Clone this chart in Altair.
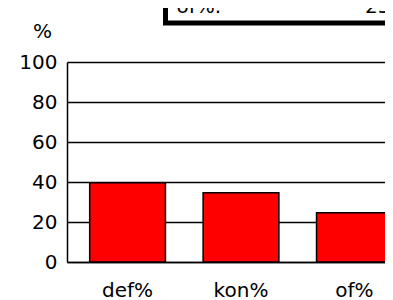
import altair as alt
import pandas as pd

categories = ["def%", "kon%", "of%"]
values = [39.6, 34.6, 24.6]
y_ticks = [0, 20, 40, 60, 80, 100]

df = pd.DataFrame({"cat": categories, "val": values})
last = df.tail(1)

FONT = "DejaVu Sans"

bars = alt.Chart(df).mark_bar(color="#ff0000", stroke="black", strokeWidth=1.5).encode(
    x=alt.X(
        "cat:N",
        sort=categories,
        scale=alt.Scale(range=[0, 348], paddingInner=0.332, paddingOuter=0.2),
        axis=alt.Axis(
            title=None, labelAngle=0, ticks=False, domainColor="black", domainWidth=1.5,
            labelPadding=18, labelFontSize=20, labelFont=FONT, labelColor="black",
        ),
    ),
    y=alt.Y(
        "val:Q",
        scale=alt.Scale(domain=[0, 100]),
        axis=alt.Axis(
            values=y_ticks, title="%", titleAngle=0, titleX=-25, titleY=-31,
            titleAlign="center", titleBaseline="middle", titleFontWeight="normal",
            titleFontSize=20, titleFont=FONT, titleColor="black",
            grid=True, gridColor="black", gridWidth=1.5, gridOpacity=1,
            ticks=False, domainColor="black", domainWidth=1.5,
            labelPadding=10, labelFontSize=20, labelFont=FONT, labelColor="black",
        ),
    ),
)

box = alt.Chart(last).mark_rect(fill="white", stroke="black", strokeWidth=5).encode(
    x=alt.value(98.5), x2=alt.value(420), y=alt.value(-120), y2=alt.value(-39)
)
box_label = alt.Chart(last).transform_calculate(
    lbl="datum.cat + '.'"
).mark_text(
    font=FONT, fontSize=20, align="left", baseline="alphabetic", color="black"
).encode(text=alt.Text("lbl:N"), x=alt.value(109.5), y=alt.value(-49.3))
box_value = alt.Chart(last).mark_text(
    font=FONT, fontSize=20, align="left", baseline="alphabetic", color="black"
).encode(text=alt.Text("val:Q", format=".0f"), x=alt.value(298), y=alt.value(-49.3))

chart = alt.layer(bars, box, box_label, box_value).properties(
    width=318,
    height=200,
    autosize=alt.AutoSizeParams(type="none"),
    padding={"left": 59, "top": 54, "right": 0, "bottom": 38},
).configure_view(strokeWidth=0)

chart.save("out.html", embed_options={"renderer": "svg", "actions": False})
